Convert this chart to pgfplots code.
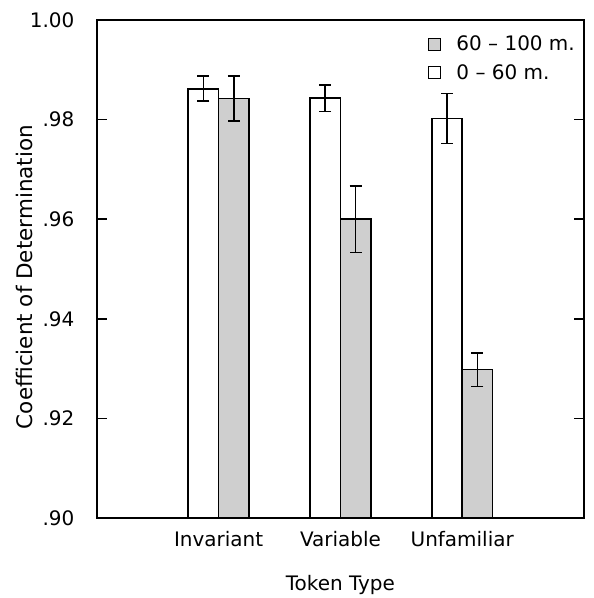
\documentclass[border=0pt]{standalone}
\usepackage{pgfplots}
\pgfplotsset{compat=1.18}
\usepackage{fontspec}
\setmainfont{DejaVu Sans}
\pgfplotsset{
    sq legend/.style={legend image code/.code={%
        \draw[##1, line width=1pt] (0pt,-6pt) rectangle (12pt,6pt);}},
    my errors/.style={error bars/.cd, y dir=both, y explicit,
        error bar style={line width=1.6pt},
        error mark options={rotate=90, mark size=6pt, line width=1.6pt}},
}
\begin{document}
\begin{tikzpicture}
\begin{axis}[
    name=main,
    scale only axis, width=488pt, height=499pt,
    xmin=0, xmax=4, ymin=0.9, ymax=1.0,
    ybar=0pt, bar width=0.25,
    xtick={1,2,3}, xticklabels={Invariant,Variable,Unfamiliar},
    xtick style={draw=none},
    ytick={0.9,0.92,0.94,0.96,0.98,1.0},
    yticklabels={.90,.92,.94,.96,.98,1.00},
    ytick pos=both, tick align=inside, major tick length=10pt,
    tick style={line width=1.5pt, black},
    axis line style={line width=1.5pt},
    font=\fontsize{20}{24}\selectfont,
    xticklabel style={yshift=-10pt},
    yticklabel style={xshift=-19pt},
    xlabel={Token Type}, ylabel={Coefficient of Determination},
    xlabel style={at={(axis description cs:0.5,0)}, anchor=center, yshift=-67pt},
    ylabel style={at={(axis description cs:-0.148,0.5)}, anchor=center,
        yshift=0pt, xshift=-8pt, font=\fontsize{21.5}{24}\selectfont},
    legend style={at={(1,1)}, anchor=north east, xshift=-7pt, yshift=-14pt,
        draw=none, fill=none, inner sep=0pt,
        font=\fontsize{20}{24}\selectfont, row sep=8pt,
        /tikz/every odd column/.append style={column sep=14pt}},
    legend cell align=left,
]
% 60 - 100 m. (grey, right bar of each pair)
\addplot[fill=gray!38, draw=black, line width=1.6pt, bar shift=0.125, sq legend, my errors]
    coordinates {(1,0.9842) +- (0,0.0045) (2,0.9600) +- (0,0.0067) (3,0.9298) +- (0,0.0034)};
\addlegendentry{60 -- 100 m.}
% 0 - 60 m. (white, left bar)
\addplot[fill=white, draw=black, line width=1.6pt, bar shift=-0.125, sq legend, my errors]
    coordinates {(1,0.9862) +- (0,0.0025) (2,0.9843) +- (0,0.0027) (3,0.9802) +- (0,0.0050)};
\addlegendentry{0 -- 60 m.}
\end{axis}
% fix the page to the reference's margins round the axis
\path ([shift={(-97pt,-79pt)}]main.south west) rectangle ([shift={(10pt,20pt)}]main.north east);
\end{tikzpicture}
\end{document}
